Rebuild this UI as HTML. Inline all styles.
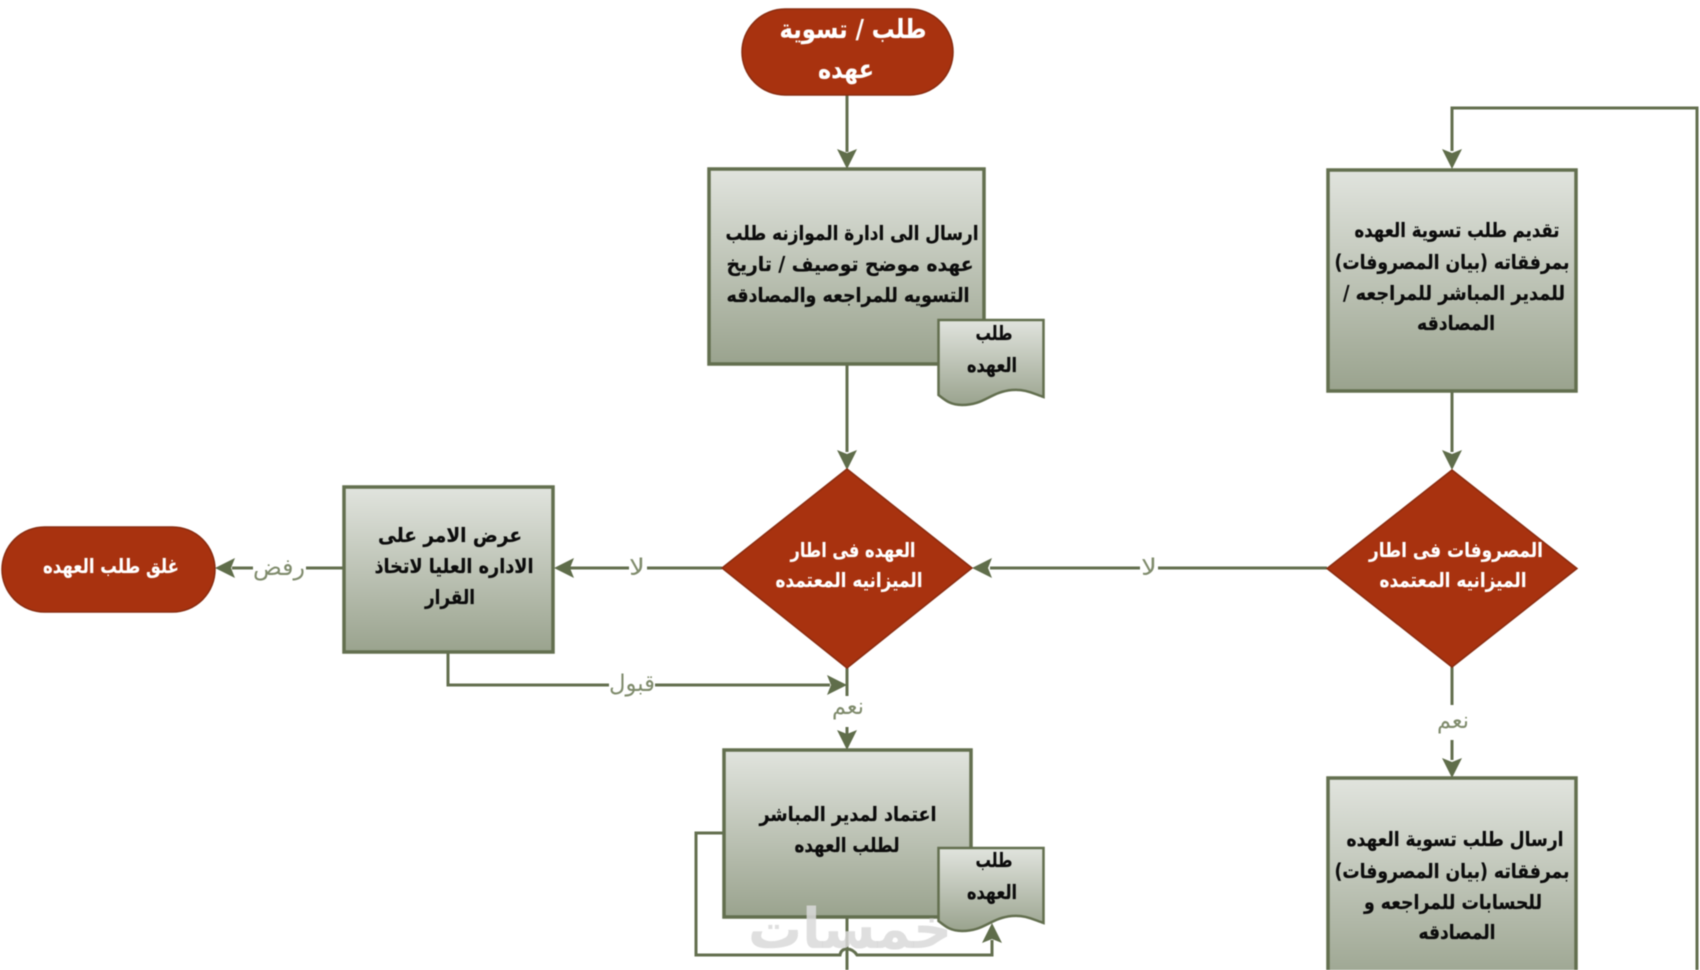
<!DOCTYPE html>
<html lang="ar">
<head>
<meta charset="utf-8">
<style>
html,body{margin:0;padding:0;background:#fff;width:1700px;height:970px;overflow:hidden}
svg{display:block;filter:blur(.45px)}
text{font-family:"DejaVu Sans","Liberation Sans",sans-serif;direction:rtl;unicode-bidi:embed;text-anchor:middle}
.d{font-weight:700;font-size:20px;fill:#0c0c0c;stroke:rgba(0,0,0,.35);stroke-width:.5px}
.w{font-weight:700;font-size:20px;fill:#fff;stroke:rgba(255,255,255,.3);stroke-width:.4px}
.l{font-size:23px;fill:#7f8b6c}
.c{fill:none;stroke:#636f4f;stroke-width:3}
.a{fill:#5f6d4a}
.r{fill:url(#g);stroke:#636f4f;stroke-width:3.500}
.p{fill:#a8320f;stroke:#8a2c10;stroke-width:1.500}
</style>
</head>
<body>
<svg width="1700" height="970" viewBox="0 0 1700 970" xmlns="http://www.w3.org/2000/svg">
<defs>
<linearGradient id="g" x1="0" y1="0" x2="0" y2="1">
<stop offset="0" stop-color="#e1e4de"/>
<stop offset="1" stop-color="#9aa38e"/>
</linearGradient>
</defs>

<!-- connectors -->
<path class="c" d="M847 95V152"/>
<path class="c" d="M847 364V452"/>
<path class="c" d="M1452 151V108H1697V970"/>
<path class="c" d="M1452 392V452"/>
<path class="c" d="M1327 568H1158M1140 568H990"/>
<path class="c" d="M722 568H647M629 568H570"/>
<path class="c" d="M343 568H306M253 568H232"/>
<path class="c" d="M448 653V685H609M655 685H830"/>
<path class="c" d="M847 668V696"/>
<path class="c" d="M847 727V734"/>
<path class="c" d="M847 917V970"/>
<path class="c" d="M723 833H696V955H840Q841 949 847 949Q853 949 857 955H992V940"/>
<path class="c" d="M1452 667V705"/>
<path class="c" d="M1452 740V760"/>

<!-- arrowheads -->
<path class="a" d="M837 149L847 153L857 149L847 169Z"/>
<path class="a" d="M837 450L847 454L857 450L847 470Z"/>
<path class="a" d="M1442 149L1452 153L1462 149L1452 169Z"/>
<path class="a" d="M1442 450L1452 454L1462 450L1452 470Z"/>
<path class="a" d="M992 558L988 568L992 578L972 568Z"/>
<path class="a" d="M574 558L570 568L574 578L554 568Z"/>
<path class="a" d="M235 558L231 568L235 578L215 568Z"/>
<path class="a" d="M827 675L831 685L827 695L847 685Z"/>
<path class="a" d="M837 730L847 734L857 730L847 750Z"/>
<path class="a" d="M1442 758L1452 762L1462 758L1452 778Z"/>
<path class="a" d="M982 943L992 939L1002 943L992 923Z"/>

<!-- terminators -->
<rect class="p" x="742" y="9" width="211" height="86" rx="43"/>
<rect class="p" x="2" y="527" width="213" height="85" rx="42.500"/>

<!-- process boxes -->
<rect class="r" x="709" y="169" width="275" height="195"/>
<rect class="r" x="1328" y="170" width="248" height="221"/>
<rect class="r" x="344" y="487" width="209" height="165"/>
<rect class="r" x="724" y="750" width="247" height="167"/>
<rect class="r" x="1328" y="778" width="248" height="210"/>

<!-- decisions -->
<path class="p" d="M847 469L972 568L847 668L722 568Z"/>
<path class="p" d="M1452 470L1577 568.500L1452 667L1327 568.500Z"/>

<!-- documents -->
<path class="r" style="stroke-width:2.500" d="M938.500 320H1043.500V397C1032 393 1025 389 1012 390C990 392 985 405 962 405C950 405 945 400 938.500 395Z"/>
<path class="r" style="stroke-width:2.500" d="M938.500 848H1043.500V923C1032 919 1025 915 1012 916C990 918 985 931 962 931C950 931 945 926 938.500 921Z"/>

<!-- labels in shapes -->
<text class="w" style="font-size:26px" x="853" y="38" textLength="147" lengthAdjust="spacingAndGlyphs">طلب / تسوية</text>
<text class="w" style="font-size:26px" x="846" y="78" textLength="56" lengthAdjust="spacingAndGlyphs">عهده</text>

<text class="d" x="852" y="240" textLength="253" lengthAdjust="spacingAndGlyphs">ارسال الى ادارة الموازنه طلب</text>
<text class="d" x="850" y="271" textLength="247" lengthAdjust="spacingAndGlyphs">عهده موضح توصيف / تاريخ</text>
<text class="d" x="848" y="302" textLength="243" lengthAdjust="spacingAndGlyphs">التسويه للمراجعه والمصادقه</text>

<text class="d" x="994" y="340" textLength="37" lengthAdjust="spacingAndGlyphs">طلب</text>
<text class="d" x="992" y="372" textLength="50" lengthAdjust="spacingAndGlyphs">العهده</text>

<text class="d" x="1457" y="237" textLength="205" lengthAdjust="spacingAndGlyphs">تقديم طلب تسوية العهده</text>
<text class="d" x="1452" y="269" textLength="235" lengthAdjust="spacingAndGlyphs">بمرفقاته (بيان المصروفات)</text>
<text class="d" x="1454" y="300" textLength="222" lengthAdjust="spacingAndGlyphs">للمدير المباشر للمراجعه /</text>
<text class="d" x="1456" y="330" textLength="78" lengthAdjust="spacingAndGlyphs">المصادقه</text>

<text class="w" x="853" y="557" textLength="125" lengthAdjust="spacingAndGlyphs">العهده فى اطار</text>
<text class="w" x="849" y="587" textLength="147" lengthAdjust="spacingAndGlyphs">الميزانيه المعتمده</text>

<text class="w" x="1456" y="557" textLength="174" lengthAdjust="spacingAndGlyphs">المصروفات فى اطار</text>
<text class="w" x="1453" y="587" textLength="147" lengthAdjust="spacingAndGlyphs">الميزانيه المعتمده</text>

<text class="d" x="450" y="542" textLength="144" lengthAdjust="spacingAndGlyphs">عرض الامر على</text>
<text class="d" x="454" y="573" textLength="159" lengthAdjust="spacingAndGlyphs">الاداره العليا لاتخاذ</text>
<text class="d" x="450" y="604" textLength="50" lengthAdjust="spacingAndGlyphs">القرار</text>

<text class="w" x="111" y="573" textLength="136" lengthAdjust="spacingAndGlyphs">غلق طلب العهده</text>

<text class="d" x="848" y="821" textLength="177" lengthAdjust="spacingAndGlyphs">اعتماد لمدير المباشر</text>
<text class="d" x="847" y="852" textLength="105" lengthAdjust="spacingAndGlyphs">لطلب العهده</text>

<text class="d" x="994" y="867" textLength="37" lengthAdjust="spacingAndGlyphs">طلب</text>
<text class="d" x="992" y="899" textLength="50" lengthAdjust="spacingAndGlyphs">العهده</text>

<text class="d" x="1455" y="846" textLength="217" lengthAdjust="spacingAndGlyphs">ارسال طلب تسوية العهده</text>
<text class="d" x="1452" y="878" textLength="235" lengthAdjust="spacingAndGlyphs">بمرفقاته (بيان المصروفات)</text>
<text class="d" x="1453" y="909" textLength="178" lengthAdjust="spacingAndGlyphs">للحسابات للمراجعه و</text>
<text class="d" x="1457" y="939" textLength="77" lengthAdjust="spacingAndGlyphs">المصادقه</text>

<!-- connector labels -->
<text class="l" x="279" y="575" textLength="52" lengthAdjust="spacingAndGlyphs">رفض</text>
<text class="l" x="637" y="575" textLength="16" lengthAdjust="spacingAndGlyphs">لا</text>
<text class="l" x="1149" y="575" textLength="16" lengthAdjust="spacingAndGlyphs">لا</text>
<text class="l" x="632" y="691" textLength="46" lengthAdjust="spacingAndGlyphs">قبول</text>
<text class="l" x="848" y="714" textLength="32" lengthAdjust="spacingAndGlyphs">نعم</text>
<text class="l" x="1453" y="728" textLength="32" lengthAdjust="spacingAndGlyphs">نعم</text>

<!-- watermark -->
<text x="850" y="948" font-size="56" font-weight="700" fill="#d9d9d9" fill-opacity=".85" textLength="204" lengthAdjust="spacingAndGlyphs">خمسات</text>
</svg>
</body>
</html>
